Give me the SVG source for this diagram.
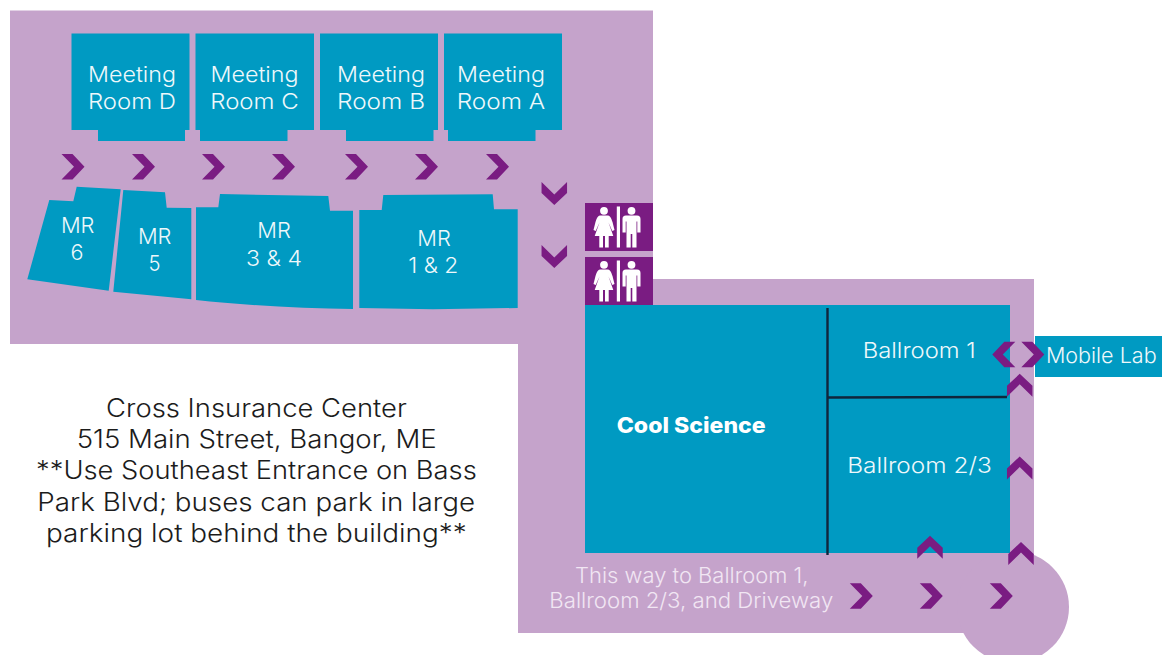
<svg xmlns="http://www.w3.org/2000/svg" width="1162" height="655" viewBox="0 0 1162 655">
<style>
.bg{fill:#c5a3cb}.room{fill:#009ac2}.ch{fill:#7a1c82}.wc{fill:#7a1c82}.fig{fill:#fff}
text{font-family:"Inter","Liberation Sans",sans-serif;font-weight:300;text-anchor:middle}
.t{fill:#eef8fb;font-size:22px}
.a{fill:#1c1c1c;font-size:25px}
.w{fill:#f1e6f3;font-size:21px}
.wall{stroke:#10263c;stroke-width:2.400;fill:none}
</style>
<defs>
<path id="r" class="ch" d="M-11.500-12.750H-.5L11.500 0-.5 12.750H-11.500L1 0Z"/>
<g id="wcicon">
<rect class="wc" x="0" y="0" width="68" height="48"/>
<circle class="fig" cx="19" cy="7.800" r="3.900"/>
<path class="fig" d="M15 12.500H23C25.500 13 26.500 16 27.500 19L29.500 27 27.300 28 23.500 19.500 28.300 33H23.700V44.500H20V33H18V44.500H14.300V33H9.700L14.500 19.500 10.700 28 8.500 27 10.500 19C11.500 16 12.500 13 15 12.500Z"/>
<rect class="fig" x="31.800" y="3.500" width="3.200" height="41"/>
<circle class="fig" cx="46.500" cy="7.800" r="3.900"/>
<path class="fig" d="M41 12.500H52C54.500 12.500 55.500 14 55.500 16V29.500H52.300V18.500H51.500V44.500H47.300V31H45.700V44.500H41.500V18.500H40.700V29.500H37.500V16C37.500 14 38.500 12.500 41 12.500Z"/>
</g>
</defs>
<g id="floor">
<path class="bg" d="M10 10.500H653V279H1034V633H518V344H10Z"/>
<circle class="bg" cx="1013" cy="607" r="56"/>
</g>
<g id="meeting-room-d"><path class="room" d="M71.500 33.500H189.500V130H185V141H98V130H71.500Z"/><text class="t" x="132" y="82" textLength="88" lengthAdjust="spacingAndGlyphs">Meeting</text><text class="t" x="132" y="109" textLength="88" lengthAdjust="spacingAndGlyphs">Room D</text></g>
<g id="meeting-room-c"><path class="room" d="M195.500 33.500H314V130H287.500V141H200V130H195.500Z"/><text class="t" x="254.500" y="81.500" textLength="88" lengthAdjust="spacingAndGlyphs">Meeting</text><text class="t" x="254.500" y="108.500" textLength="88.500" lengthAdjust="spacingAndGlyphs">Room C</text></g>
<g id="meeting-room-b"><path class="room" d="M320 33.500H438V130H433.500V141H346V130H320Z"/><text class="t" x="381" y="81.500" textLength="88" lengthAdjust="spacingAndGlyphs">Meeting</text><text class="t" x="381" y="108.500" textLength="88" lengthAdjust="spacingAndGlyphs">Room B</text></g>
<g id="meeting-room-a"><path class="room" d="M444 33.500H562V130H535.500V141H448V130H444Z"/><text class="t" x="501" y="81.500" textLength="88" lengthAdjust="spacingAndGlyphs">Meeting</text><text class="t" x="501" y="108.500" textLength="88.500" lengthAdjust="spacingAndGlyphs">Room A</text></g>
<g id="mr-6"><path class="room" d="M49.300 200L73.300 201.300 76.700 186.700 120.700 189.300 108.700 290.700 27.300 279.300Z"/><text class="t" x="77.700" y="233" textLength="33.500" lengthAdjust="spacingAndGlyphs">MR</text><text class="t" x="77" y="260" textLength="13" lengthAdjust="spacingAndGlyphs">6</text></g>
<g id="mr-5"><path class="room" d="M123.300 190L165 192.300 166.700 207.700 191.300 208V299.300L113.300 291.700Z"/><text class="t" x="154.700" y="244" textLength="33.500" lengthAdjust="spacingAndGlyphs">MR</text><text class="t" x="154.500" y="271" textLength="12" lengthAdjust="spacingAndGlyphs">5</text></g>
<g id="mr-3-4"><path class="room" d="M196 207.300H218.300L220 194 328.300 196 330 210.700H353V309C300 308.500 240 305 196 300Z"/><text class="t" x="274" y="238" textLength="33.500" lengthAdjust="spacingAndGlyphs">MR</text><text class="t" x="274" y="265.500" textLength="56" lengthAdjust="spacingAndGlyphs">3 &amp; 4</text></g>
<g id="mr-1-2"><path class="room" d="M359.300 210H381.700L383.300 195 492.700 194.300 494 209.300H517.700V308L433 309.300 359.300 308Z"/><text class="t" x="434" y="246" textLength="33.500" lengthAdjust="spacingAndGlyphs">MR</text><text class="t" x="433.300" y="273" textLength="50" lengthAdjust="spacingAndGlyphs">1 &amp; 2</text></g>
<g id="restroom-1"><use href="#wcicon" x="585" y="203"/></g>
<g id="restroom-2"><use href="#wcicon" x="585" y="257"/></g>
<g id="cool-science"><rect class="room" x="585" y="305" width="425" height="248"/><text x="691.200" y="433.300" textLength="149" lengthAdjust="spacingAndGlyphs" style="font-weight:800;font-size:22px;fill:#fff">Cool Science</text></g>
<g id="walls"><path class="wall" d="M827.500 308V555M828 397.500L1007 397"/></g>
<g id="ballroom-1"><text class="t" x="919.200" y="358" textLength="113" lengthAdjust="spacingAndGlyphs">Ballroom 1</text></g>
<g id="ballroom-2-3"><text class="t" x="919.500" y="472.500" textLength="144.500" lengthAdjust="spacingAndGlyphs">Ballroom 2/3</text></g>
<g id="mobile-lab"><rect class="room" x="1035" y="336" width="127" height="41"/><text class="t" x="1101.300" y="362.500" textLength="110.700" lengthAdjust="spacingAndGlyphs">Mobile Lab</text></g>
<g id="address">
<text class="a" x="256.400" y="416.500" textLength="300.700" lengthAdjust="spacingAndGlyphs">Cross Insurance Center</text>
<text class="a" x="256.700" y="448" textLength="360" lengthAdjust="spacingAndGlyphs">515 Main Street, Bangor, ME</text>
<text class="a" x="256.400" y="479.300" textLength="440.700" lengthAdjust="spacingAndGlyphs">**Use Southeast Entrance on Bass</text>
<text class="a" x="256.200" y="511" textLength="437.700" lengthAdjust="spacingAndGlyphs">Park Blvd; buses can park in large</text>
<text class="a" x="256.400" y="542.300" textLength="420.700" lengthAdjust="spacingAndGlyphs">parking lot behind the building**</text>
</g>
<g id="driveway-note">
<text class="w" x="691.700" y="583.300" textLength="233.300" lengthAdjust="spacingAndGlyphs">This way to Ballroom 1,</text>
<text class="w" x="691.300" y="608.300" textLength="284" lengthAdjust="spacingAndGlyphs">Ballroom 2/3, and Driveway</text>
</g>
<g id="connectors">
<use href="#r" x="73" y="166.750"/><use href="#r" x="143.500" y="166.750"/><use href="#r" x="213.500" y="166.750"/><use href="#r" x="283.500" y="166.750"/><use href="#r" x="356.500" y="166.750"/><use href="#r" x="426.500" y="166.750"/><use href="#r" x="497.500" y="166.750"/>
<use href="#r" transform="translate(554.300 193.500) rotate(90)"/>
<use href="#r" transform="translate(554.300 256.500) rotate(90)"/>
<use href="#r" x="861.300" y="596"/><use href="#r" x="931.300" y="596"/><use href="#r" x="1001.300" y="596"/>
<use href="#r" transform="translate(1003.800 354.500) rotate(180)"/>
<use href="#r" x="1032.800" y="354.500"/>
<use href="#r" transform="translate(1019.700 385.300) rotate(-90)"/>
<use href="#r" transform="translate(1019.700 468) rotate(-90)"/>
<use href="#r" transform="translate(1021 553.500) rotate(-90)"/>
<use href="#r" transform="translate(930 547.300) rotate(-90)"/>
</g>
</svg>
